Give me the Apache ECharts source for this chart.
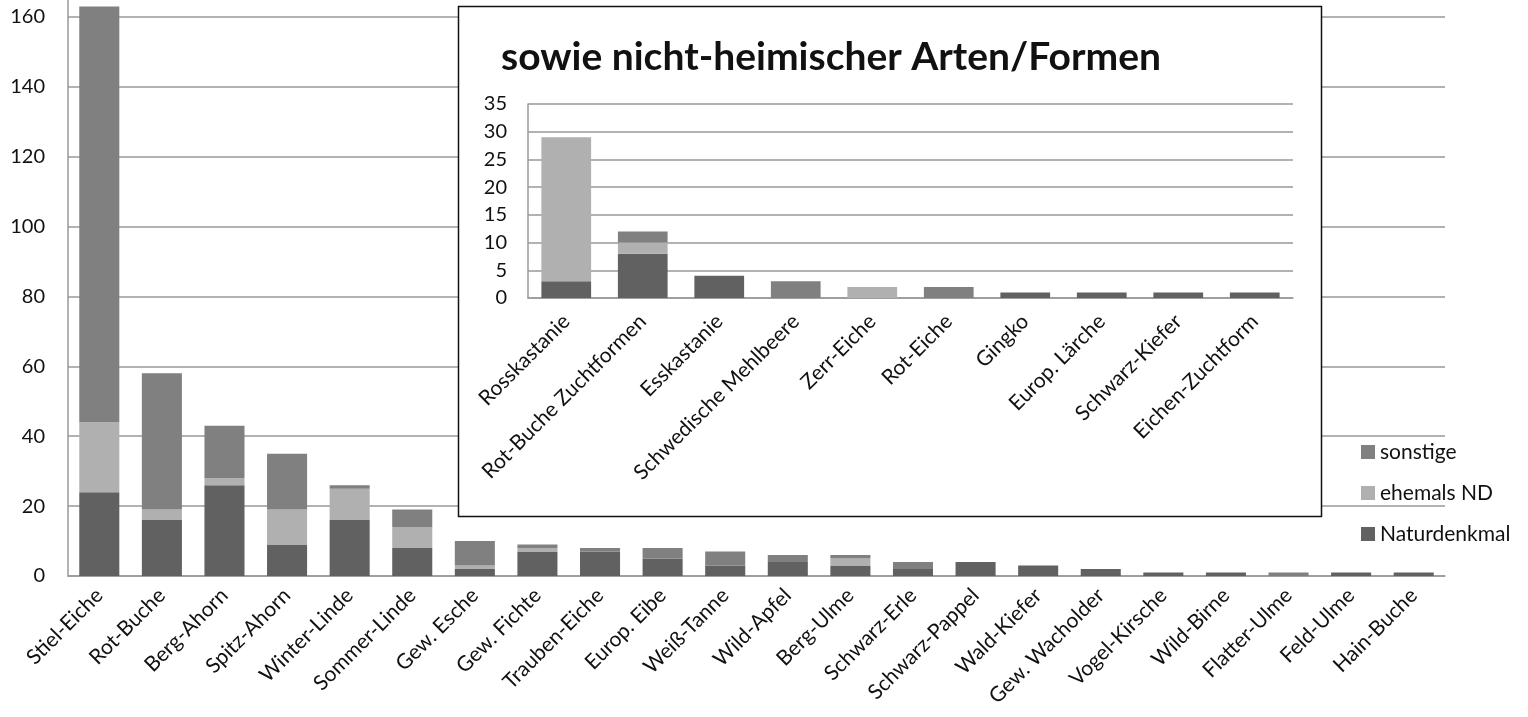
<!DOCTYPE html>
<html>
<head>
<meta charset="utf-8">
<script src="https://cdn.jsdelivr.net/npm/echarts@6/dist/echarts.min.js"></script>
<style>
  html, body { margin: 0; padding: 0; background: #fff; overflow: hidden; }
  /* the original picture is cut off above 160, so the chart is shifted up */
  #chart { width: 1528px; height: 787px; margin-top: -70px; }
</style>
</head>
<body>
<div id="chart"></div>
<script>
const categories = ["Stiel-Eiche", "Rot-Buche", "Berg-Ahorn", "Spitz-Ahorn", "Winter-Linde", "Sommer-Linde", "Gew. Esche", "Gew. Fichte", "Trauben-Eiche", "Europ. Eibe", "Weiß-Tanne", "Wild-Apfel", "Berg-Ulme", "Schwarz-Erle", "Schwarz-Pappel", "Wald-Kiefer", "Gew. Wacholder", "Vogel-Kirsche", "Wild-Birne", "Flatter-Ulme", "Feld-Ulme", "Hain-Buche"];
const naturdenkmal = [24, 16, 26, 9, 16, 8, 2, 7, 7, 5, 3, 4, 3, 2, 4, 3, 2, 1, 1, 0, 1, 1];
const ehemalsND = [20, 3, 2, 10, 9, 6, 1, 1, 0, 0, 0, 0, 2, 0, 0, 0, 0, 0, 0, 0, 0, 0];
const sonstige = [119, 39, 15, 16, 1, 5, 7, 1, 1, 3, 4, 2, 1, 2, 0, 0, 0, 0, 0, 1, 0, 0];

const insetCategories = ["Rosskastanie", "Rot-Buche Zuchtformen", "Esskastanie", "Schwedische Mehlbeere", "Zerr-Eiche", "Rot-Eiche", "Gingko", "Europ. Lärche", "Schwarz-Kiefer", "Eichen-Zuchtform"];
const insetNaturdenkmal = [3, 8, 4, 0, 0, 0, 1, 1, 1, 1];
const insetEhemalsND = [26, 2, 0, 0, 2, 0, 0, 0, 0, 0];
const insetSonstige = [0, 2, 0, 3, 0, 2, 0, 0, 0, 0];

const colN = "#616161";
const colE = "#b0b0b0";
const colS = "#808080";
const font = "Lato";
const dy = 70; // vertical shift of the canvas

const chart = echarts.init(document.getElementById("chart"));

const bar = (name, data, color, axis, z) => ({
  name: name,
  type: "bar",
  stack: "s" + axis,
  xAxisIndex: axis,
  yAxisIndex: axis,
  data: data,
  barWidth: axis === 0 ? "64%" : "65%",
  itemStyle: { color: color },
  z: z,
});

const option = {
  animation: false,
  textStyle: { fontFamily: font },
  grid: [
    { left: 68, right: 83, top: 17, bottom: 141 },
    { left: 528, right: 235, top: 104 + dy, bottom: 419 },
  ],
  graphic: [
    {
      type: "rect",
      z: 1,
      shape: { x: 458.5, y: 6.5 + dy, width: 863, height: 510 },
      style: { fill: "#fff", stroke: "#111", lineWidth: 1.5 },
    },
    {
      type: "text",
      z: 5,
      left: 501,
      top: 38 + dy,
      style: {
        text: "sowie nicht-heimischer Arten/Formen",
        font: "bold 39px " + font,
        fill: "#111",
      },
    },
  ],
  legend: {
    orient: "vertical",
    left: 1356,
    top: 436 + dy,
    itemWidth: 14,
    itemHeight: 14,
    itemGap: 19,
    icon: "rect",
    data: ["sonstige", "ehemals ND", "Naturdenkmal"],
    textStyle: { fontSize: 21, lineHeight: 22, color: "#111", fontFamily: font },
  },
  xAxis: [
    {
      type: "category",
      gridIndex: 0,
      data: categories,
      z: 0,
      axisLine: { lineStyle: { color: "#999", width: 1.5 } },
      axisTick: { show: false },
      axisLabel: { rotate: 45, fontSize: 21, color: "#111", margin: 16, interval: 0 },
    },
    {
      type: "category",
      gridIndex: 1,
      data: insetCategories,
      z: 2,
      axisLine: { lineStyle: { color: "#999", width: 1.5 } },
      axisTick: { show: false },
      axisLabel: { rotate: 45, fontSize: 21, color: "#111", margin: 20, interval: 0 },
    },
  ],
  yAxis: [
    {
      type: "value",
      gridIndex: 0,
      min: 0,
      max: 180,
      interval: 20,
      z: 0,
      axisLine: { show: true, lineStyle: { color: "#999", width: 1.5 } },
      axisTick: { show: false },
      splitLine: { lineStyle: { color: "#999", width: 1.5 } },
      axisLabel: { fontSize: 20, color: "#111", margin: 23 },
    },
    {
      type: "value",
      gridIndex: 1,
      min: 0,
      max: 35,
      interval: 5,
      z: 2,
      axisLine: { show: true, lineStyle: { color: "#999", width: 1.5 } },
      axisTick: { show: false },
      splitLine: { lineStyle: { color: "#999", width: 1.5 } },
      axisLabel: { fontSize: 20, color: "#111", margin: 21 },
    },
  ],
  series: [
    bar("Naturdenkmal", naturdenkmal, colN, 0, 2),
    bar("ehemals ND", ehemalsND, colE, 0, 2),
    bar("sonstige", sonstige, colS, 0, 2),
    bar("Naturdenkmal", insetNaturdenkmal, colN, 1, 4),
    bar("ehemals ND", insetEhemalsND, colE, 1, 4),
    bar("sonstige", insetSonstige, colS, 1, 4),
  ],
};

chart.setOption(option);
</script>
</body>
</html>
